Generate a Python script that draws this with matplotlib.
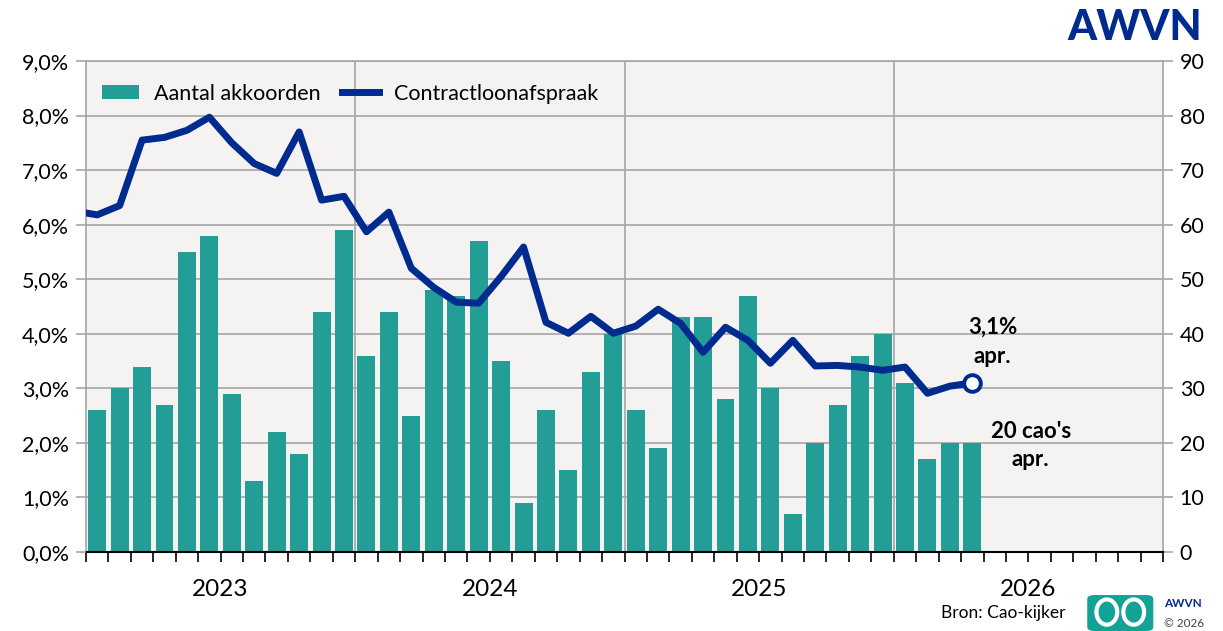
import numpy as np
import matplotlib
matplotlib.use("Agg")
from matplotlib import pyplot as plt
from matplotlib.patches import FancyBboxPatch, Ellipse
from matplotlib.ticker import FuncFormatter, MultipleLocator

plt.rcParams['font.family'] = ['Lato', 'DejaVu Sans']

# maanden vanaf jan 2023 (index 0), lijn begint met dec 2022
years = ['2023', '2024', '2025', '2026']
akkoorden = [26, 30, 34, 27, 55, 58, 29, 13, 22, 18, 44, 59,
             36, 44, 25, 48, 47, 57, 35, 9, 26, 15, 33, 40,
             26, 19, 43, 43, 28, 47, 30, 7, 20, 27, 36, 40,
             31, 17, 20, 20]
loon = [6.25,
        6.18, 6.35, 7.55, 7.60, 7.73, 7.97, 7.50, 7.12, 6.94, 7.70, 6.45, 6.52,
        5.87, 6.23, 5.20, 4.85, 4.58, 4.56, 5.05, 5.59, 4.21, 4.01, 4.32, 4.01,
        4.14, 4.45, 4.19, 3.66, 4.12, 3.88, 3.46, 3.88, 3.41, 3.42, 3.39, 3.33,
        3.39, 2.91, 3.04, 3.10]

bar_col = '#239E96'
line_col = '#002B8E'
grid_col = '#A6A6A6'

x_bar = np.arange(len(akkoorden)) + 0.5
x_line = np.arange(len(loon)) - 0.5

fig = plt.figure(figsize=(12.23, 6.31), dpi=100)
ax = fig.add_axes([0.0703, 0.1252, 0.8807, 0.7781])
ax2 = ax.twinx()
ax.set_facecolor('#F4F3F2')

# staven op rechter as
ax.bar(x_bar, akkoorden, width=0.8, color=bar_col, label='Aantal akkoorden', zorder=2)
ax.set_ylim(0, 90)
ax.set_xlim(0, 48)
ax.yaxis.set_major_locator(MultipleLocator(10))
ax.yaxis.tick_right()
ax.grid(axis='y', color=grid_col, lw=1.2, zorder=0)
ax.set_axisbelow(True)
for yb in [12, 24, 36]:
    ax.axvline(yb, color=grid_col, lw=1.2, zorder=1)

ax.set_xticks(np.arange(0, 49))
ax.set_xticklabels([])
ax.tick_params(axis='x', direction='out', length=7, width=1.2, color='black')
ax.tick_params(axis='y', length=7, width=1.2, color=grid_col, labelsize=15.5, pad=5)
for s in ['top', 'left', 'right']:
    ax.spines[s].set_color(grid_col)
    ax.spines[s].set_linewidth(1.2)
ax.spines['bottom'].set_color('black')
ax.spines['bottom'].set_linewidth(1.5)

for i, y in enumerate(years):
    ax.text(i * 12 + 6, -0.055, y, transform=ax.get_xaxis_transform(),
            ha='center', va='top', fontsize=17.5)

# lijn op linker as
ax2.plot(x_line, loon, color=line_col, lw=5, solid_joinstyle='round',
         label='Contractloonafspraak', zorder=3, clip_on=True)
ax2.plot(x_line[-1], loon[-1], 'o', ms=12, mfc='white', mec=line_col, mew=2.8, zorder=4)
ax2.set_ylim(0, 9)
ax2.set_xlim(0, 48)
ax2.yaxis.set_major_locator(MultipleLocator(1))
ax2.yaxis.tick_left()
ax2.yaxis.set_major_formatter(FuncFormatter(lambda v, p: f'{v:.1f}%'.replace('.', ',')))
ax2.tick_params(axis='y', length=7, width=1.2, color=grid_col, labelsize=15.5, pad=5)
for s in ax2.spines.values():
    s.set_visible(False)

ax2.text(x_line[-1] + 0.9, 4.12, '3,1%', ha='center', va='center', fontsize=16, fontweight='bold')
ax2.text(x_line[-1] + 0.9, 3.58, 'apr.', ha='center', va='center', fontsize=16, fontweight='bold')
ax2.text(x_bar[-1] + 2.6, 2.2, "20 cao's", ha='center', va='center', fontsize=16, fontweight='bold')
ax2.text(x_bar[-1] + 2.6, 1.7, 'apr.', ha='center', va='center', fontsize=16, fontweight='bold')

h1, l1 = ax.get_legend_handles_labels()
h2, l2 = ax2.get_legend_handles_labels()
ax2.legend(h1 + h2, l1 + l2, loc='upper left', bbox_to_anchor=(-0.003, 0.993), ncol=2,
           frameon=False, fontsize=15.5, handlelength=1.7, handleheight=0.65,
           columnspacing=1.0, handletextpad=0.7)

# logo's en bron
fig.text(0.983, 0.955, 'AWVN', ha='right', va='center', fontsize=30,
         fontweight='black', color=line_col)
fig.text(0.871, 0.016, 'Bron: Cao-kijker', ha='right', va='bottom', fontsize=12.5)
fig.patches.append(FancyBboxPatch((0.889, 0.0), 0.054, 0.057,
                                  boxstyle='round,pad=0,rounding_size=0.006',
                                  transform=fig.transFigure, fc='#12A394', ec='none'))
for cx in [0.905, 0.927]:
    fig.patches.append(Ellipse((cx, 0.03), 0.017, 0.04, transform=fig.transFigure,
                               fc='none', ec='white', lw=3))
fig.text(0.952, 0.035, 'AWVN', ha='left', va='bottom', fontsize=8.5,
         fontweight='bold', color=line_col)
fig.text(0.952, 0.003, '© 2026', ha='left', va='bottom', fontsize=8.5, color='#444444')

fig.savefig('out.png', dpi=100)
